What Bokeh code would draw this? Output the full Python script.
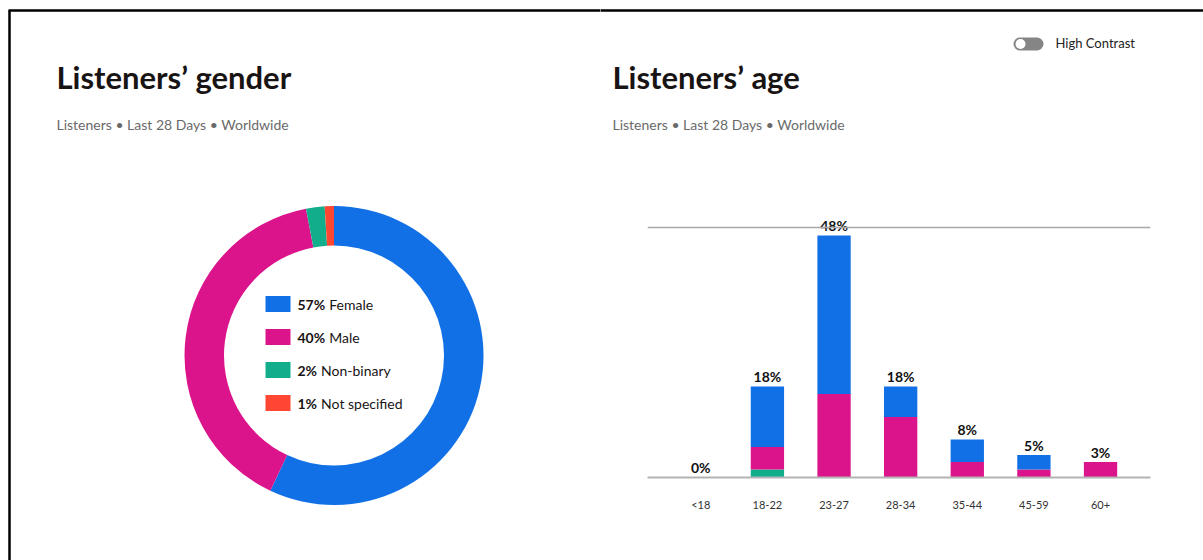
import numpy as np
from bokeh.plotting import figure
from bokeh.models import Range1d, FixedTicker, ColumnDataSource, Span
from bokeh.layouts import row, column
from bokeh.core.properties import value
from bokeh.embed import file_html
from bokeh.resources import INLINE

# ---------------- data ----------------
gender_labels = ["Female", "Male", "Non-binary", "Not specified"]
gender_share = [57, 40, 2, 1]
gender_colors = ["#1270e6", "#dc148c", "#12ae8c", "#ff4632"]

age_groups = ["<18", "18-22", "23-27", "28-34", "35-44", "45-59", "60+"]
age_female = [0, 12.1, 31.7, 6.1, 4.5, 2.9, 0]
age_male = [0, 4.5, 16.7, 12.1, 3.1, 1.6, 3.1]
age_nonbinary = [0, 1.6, 0, 0, 0, 0, 0]
age_total_labels = ["0%", "18%", "48%", "18%", "8%", "5%", "3%"]
grid_ticks = [50]

title_left = "Listeners\u2019 gender"
title_right = "Listeners\u2019 age"
subtitle = "Listeners \u2022 Last 28 Days \u2022 Worldwide"
toggle_label = "High Contrast"

# ---------------- styles ----------------
FONT = value("Lato")
TITLE_C = "#191414"
SUB_C = "#6a6a6a"
H = 560

def common(fig):
    fig.outline_line_color = None
    fig.background_fill_color = "white"
    fig.border_fill_color = "white"
    fig.frame_align = False

# ---------------- left: donut ----------------
left = figure(width=600, height=H, x_range=Range1d(0, 600), y_range=Range1d(0, H),
              x_axis_type=None, y_axis_type=None, min_border=0,
              output_backend="svg", toolbar_location=None)
common(left)
left.grid.visible = False

# page border
left.line(x=[8, 605], y=[H - 10, H - 10], line_color="black", line_width=2.5)
left.line(x=[9, 9], y=[0, H - 10], line_color="black", line_width=2.5)

left.text(x=[56], y=[H - 76], text=[title_left], text_font=FONT, text_font_size="31px",
          text_font_style="bold", text_color=TITLE_C, text_baseline="middle")
left.text(x=[56], y=[H - 124], text=[subtitle], text_font=FONT, text_font_size="14px",
          text_color=SUB_C, text_baseline="middle")

cx, cy = 333.5, H - 355
frac = np.cumsum([0] + gender_share) / float(sum(gender_share))
starts = np.pi / 2 - 2 * np.pi * frac[:-1]
ends = np.pi / 2 - 2 * np.pi * frac[1:]
left.annular_wedge(x=cx, y=cy, inner_radius=110, outer_radius=149.5,
                   start_angle=starts, end_angle=ends, direction="clock",
                   fill_color=gender_colors, line_color=None)

# legend inside the donut
row_y = [H - (303.5 + 33 * i) for i in range(len(gender_labels))]
left.rect(x=[277.5] * len(gender_labels), y=row_y, width=25, height=16,
          fill_color=gender_colors, line_color=None)
pct_txt = [f"{v}%" for v in gender_share]
fs = 14
pct_w = [sum(0.58 * fs if ch.isdigit() else 0.82 * fs for ch in t) for t in pct_txt]
left.text(x=[297] * len(pct_txt), y=row_y, text=pct_txt, text_font=FONT,
          text_font_size=f"{fs}px", text_font_style="bold", text_color=TITLE_C,
          text_baseline="middle")
left.text(x=[297 + w + 4 for w in pct_w], y=row_y, text=gender_labels, text_font=FONT,
          text_font_size=f"{fs}px", text_color=TITLE_C, text_baseline="middle")

# ---------------- right header ----------------
HH = 200
hdr = figure(width=603, height=HH, x_range=Range1d(0, 603), y_range=Range1d(0, HH),
             x_axis_type=None, y_axis_type=None, min_border=0,
             output_backend="svg", toolbar_location=None)
common(hdr)
hdr.grid.visible = False
hdr.line(x=[-5, 610], y=[HH - 10, HH - 10], line_color="black", line_width=2.5)
hdr.text(x=[12], y=[HH - 76], text=[title_right], text_font=FONT, text_font_size="31px",
         text_font_style="bold", text_color=TITLE_C, text_baseline="middle")
hdr.text(x=[12], y=[HH - 124], text=[subtitle], text_font=FONT, text_font_size="14px",
         text_color=SUB_C, text_baseline="middle")
# toggle
hdr.line(x=[419.5, 436.5], y=[HH - 43.5, HH - 43.5], line_color="#858585",
         line_width=13, line_cap="round")
hdr.scatter(x=[420], y=[HH - 43.5], size=10, fill_color="white", line_color=None)
hdr.text(x=[455], y=[HH - 42], text=[toggle_label], text_font=FONT, text_font_size="13px",
         text_color="#222222", text_baseline="middle")

# ---------------- right: bars ----------------
src = ColumnDataSource(dict(
    x=list(range(len(age_groups))),
    female=age_female, male=age_male, nonbinary=age_nonbinary,
    total=[a + b + c for a, b, c in zip(age_female, age_male, age_nonbinary)],
    label=age_total_labels,
))
bars = figure(width=603, height=H - HH, x_range=Range1d(-0.8, 6.75), y_range=Range1d(0, 54),
              y_axis_type=None, min_border_left=47, min_border_right=53,
              min_border_top=7, min_border_bottom=83,
              output_backend="svg", toolbar_location=None)
common(bars)
bars.xgrid.visible = False
bars.vbar_stack(["nonbinary", "male", "female"], x="x", width=0.5, source=src,
                fill_color=[gender_colors[2], gender_colors[1], gender_colors[0]],
                line_color=None)
bars.text(x="x", y="total", text="label", source=src, text_font=FONT,
          text_font_size="14px", text_font_style="bold", text_color="#111111",
          text_align="center", text_baseline="middle", y_offset=-10)
bars.add_layout(Span(location=grid_ticks[0], dimension="width",
                     line_color="#a8a8a8", line_width=1.5))

ax = bars.xaxis[0]
ax.ticker = FixedTicker(ticks=list(range(len(age_groups))))
ax.major_label_overrides = {i: g for i, g in enumerate(age_groups)}
ax.axis_line_color = "#b3b3b3"
ax.axis_line_width = 2
ax.major_tick_line_color = None
ax.minor_tick_line_color = None
ax.major_label_standoff = 14
ax.major_label_text_font = "Lato"
ax.major_label_text_font_size = "11px"
ax.major_label_text_color = "#333333"

layout = row(left, column(hdr, bars))
open("out.html", "w").write(file_html(layout, INLINE))
